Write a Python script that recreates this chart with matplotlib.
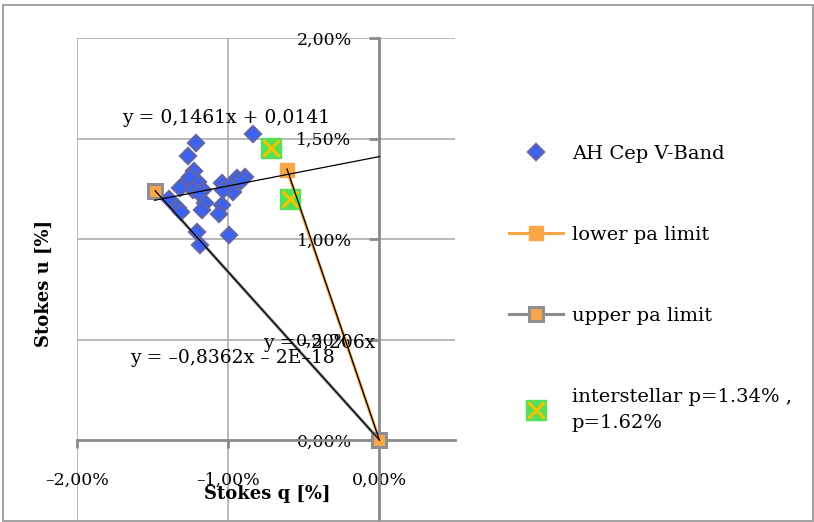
import matplotlib
matplotlib.use("Agg")
import matplotlib.pyplot as plt
from matplotlib.ticker import FixedLocator, FuncFormatter
from matplotlib.legend_handler import HandlerTuple
from matplotlib.patches import Rectangle

plt.rcParams['font.family'] = ['DejaVu Serif', 'DejaVu Sans']

# ---- data (Stokes parameters as fractions) ----
q_data = [-0.00839, -0.01214, -0.01267, -0.01223, -0.01201, -0.01296, -0.01322,
          -0.01230, -0.01168, -0.01042, -0.00982, -0.00942, -0.00887, -0.00965,
          -0.01035, -0.01389, -0.01329, -0.01313, -0.01152, -0.01172, -0.01042,
          -0.01064, -0.01207, -0.01185, -0.00998, -0.01190, -0.01255, -0.00915]
u_data = [0.01521, 0.01476, 0.01415, 0.01340, 0.01282, 0.01269, 0.01252,
          0.01244, 0.01244, 0.01280, 0.01269, 0.01302, 0.01310, 0.01236,
          0.01244, 0.01199, 0.01153, 0.01136, 0.01181, 0.01144, 0.01169,
          0.01123, 0.01036, 0.00970, 0.01020, 0.01230, 0.01310, 0.01290]

lower_q = [-0.00611, 0.0]
lower_u = [0.01343, 0.0]
upper_q = [-0.01483, 0.0]
upper_u = [0.01240, 0.0]
inter_q = [-0.00717, -0.00593]
inter_u = [0.01451, 0.01199]

fit_slope, fit_icpt = 0.1461, 0.0141
fit_q = [-0.01488, 0.0]
lower_slope = -2.206
upper_slope = -0.8362

series_names = ["AH Cep V-Band", "lower pa limit", "upper pa limit",
                "interstellar p=1.34% ,\np=1.62%"]
eq_texts = ["y = 0,1461x + 0,0141", "y = \u20130,8362x \u2013 2E\u201318",
            "y = \u20132,206x"]
x_ticks = [-0.02, -0.01, 0.0]
y_ticks = [0.0, 0.005, 0.01, 0.015, 0.02]

W, H = 814, 522
fig = plt.figure(figsize=(W / 100, H / 100), dpi=100)
fig.patches.append(Rectangle((3 / W, 1.5 / H), 810 / W, (517 - 1.5) / H,
                             transform=fig.transFigure, fill=False,
                             edgecolor='#9a9a9a', linewidth=1.3))

ax = fig.add_axes([77 / W, 2 / H, (455 - 77) / W, (520 - 38) / H])
ax.set_xlim(-0.02, 0.005)
ax.set_ylim(-0.00398, 0.02)

gridc = '#a6a6a6'
for yv in y_ticks[1:]:
    ax.axhline(yv, color=gridc, lw=1.1, zorder=0)
for xv in x_ticks[:2]:
    ax.axvline(xv, color=gridc, lw=1.1, zorder=0)

for s in ['top', 'right']:
    ax.spines[s].set_visible(False)
ax.spines['left'].set_position(('data', 0))
ax.spines['bottom'].set_position(('data', 0))
for s in ['left', 'bottom']:
    ax.spines[s].set_color('#8a8a8a')
    ax.spines[s].set_linewidth(2.0)
ax.patch.set_alpha(0)

def pct(v, pos=None):
    s = f"{abs(v) * 100:.2f}".replace('.', ',') + "%"
    return ("\u2013" + s) if v < -1e-12 else s

ax.xaxis.set_major_locator(FixedLocator(x_ticks))
ax.yaxis.set_major_locator(FixedLocator(y_ticks))
ax.xaxis.set_major_formatter(FuncFormatter(pct))
ax.yaxis.set_major_formatter(FuncFormatter(pct))
ax.tick_params(axis='x', direction='out', length=6, width=2, color='#8a8a8a',
               pad=17, labelsize=12.5)
ax.tick_params(axis='y', direction='out', length=7, width=2, color='#8a8a8a',
               pad=13, labelsize=12.5)

# series
blue = ax.plot(q_data, u_data, linestyle='none', marker='D', ms=8.5,
               mfc='#3b62f2', mec='#6065a8', mew=1.6, zorder=5)[0]
orange = '#f8a64a'
low = ax.plot(lower_q, lower_u, color=orange, lw=2.2, marker='s', ms=10.5,
              mfc=orange, mec=orange, mew=1, zorder=4)[0]
upp = ax.plot(upper_q, upper_u, color='#8c8c8c', lw=2.2, marker='s', ms=9.5,
              mfc=orange, mec='#8f8f8f', mew=2.2, zorder=4)[0]
green = ax.plot(inter_q, inter_u, linestyle='none', marker='s', ms=14,
                mfc='#55e055', mec='#55e055', zorder=6)[0]
yx = ax.plot(inter_q, inter_u, linestyle='none', marker='x', ms=12,
             mec='#f5c400', mew=2.2, zorder=7)[0]

# trend lines
ax.plot(fit_q, [fit_slope * q + fit_icpt for q in fit_q], color='black',
        lw=0.9, zorder=8)
ax.plot(lower_q, [lower_slope * q for q in lower_q], color='black', lw=0.9,
        zorder=8)
ax.plot(upper_q, [upper_slope * q for q in upper_q], color='black', lw=0.9,
        zorder=8)

eq_fs = 13.5
ax.text(-0.01702, 0.01602, eq_texts[0], fontsize=eq_fs, ha='left',
        va='center', zorder=9)
ax.text(-0.01649, 0.00408, eq_texts[1], fontsize=eq_fs, ha='left',
        va='center', zorder=9)
ax.text(-0.00768, 0.00483, eq_texts[2], fontsize=eq_fs, ha='left',
        va='center', zorder=9)

fig.text(267 / W, 1 - 494 / H, "Stokes q [%]", fontsize=13, fontweight='bold',
         ha='center', va='center')
fig.text(44 / W, 1 - 283 / H, "Stokes u [%]", fontsize=13, fontweight='bold',
         ha='center', va='center', rotation=90)

leg = fig.legend([blue, low, upp, (green, yx)], series_names,
                 handler_map={tuple: HandlerTuple(ndivide=1)},
                 loc='upper left', bbox_to_anchor=(499 / W, 1 - 135 / H),
                 frameon=False, fontsize=14, labelspacing=3.25,
                 handlelength=2.8, handletextpad=0.45, borderpad=0)
leg.get_texts()[3].set_linespacing(1.55)

fig.savefig("out.png", dpi=100)
